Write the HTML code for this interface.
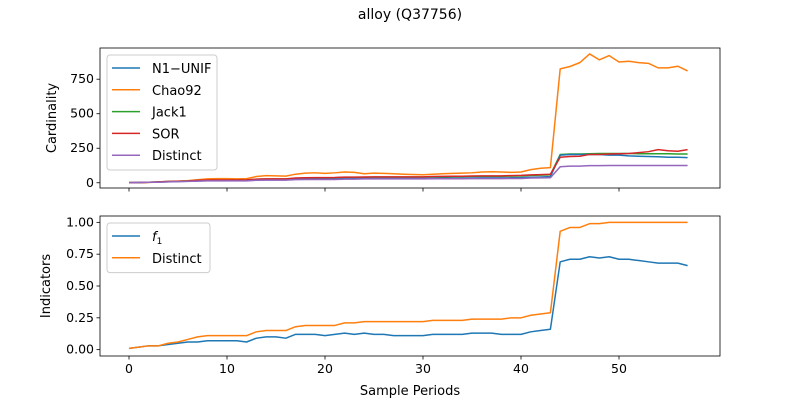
<!DOCTYPE html>
<html><head><meta charset="utf-8"><style>
body{margin:0;background:#fff}
svg text{font-family:"DejaVu Sans","Liberation Sans",sans-serif;fill:#000}
</style></head><body>
<svg id="c" width="800" height="400" xmlns="http://www.w3.org/2000/svg">
<text x="410" y="19" font-size="14" text-anchor="middle">alloy (Q37756)</text>
</svg>
<script>
const periods = Array.from({length:58},(_,i)=>i);
const chao92 = [0,0,2,5,10,12,15,22,28,30,30,28,30,45,52,50,48,62,70,72,68,72,78,75,65,70,68,65,62,60,58,62,65,68,70,72,78,80,78,75,78,95,105,110,825,842,870,933,890,921,875,880,870,865,832,832,844,810];
const distinctInd = [0.01,0.02,0.03,0.03,0.05,0.06,0.08,0.10,0.11,0.11,0.11,0.11,0.11,0.14,0.15,0.15,0.15,0.18,0.19,0.19,0.19,0.19,0.21,0.21,0.22,0.22,0.22,0.22,0.22,0.22,0.22,0.23,0.23,0.23,0.23,0.24,0.24,0.24,0.24,0.25,0.25,0.27,0.28,0.29,0.93,0.96,0.96,0.99,0.99,1.0,1.0,1.0,1.0,1.0,1.0,1.0,1.0,1.0];
const f1Ind = [0.01,0.02,0.03,0.03,0.04,0.05,0.06,0.06,0.07,0.07,0.07,0.07,0.06,0.09,0.10,0.10,0.09,0.12,0.12,0.12,0.11,0.12,0.13,0.12,0.13,0.12,0.12,0.11,0.11,0.11,0.11,0.12,0.12,0.12,0.12,0.13,0.13,0.13,0.12,0.12,0.12,0.14,0.15,0.16,0.69,0.71,0.71,0.73,0.72,0.73,0.71,0.71,0.70,0.69,0.68,0.68,0.68,0.66];
const distinctCard = [1,2,4,4,6,8,10,12,14,14,14,14,14,18,19,19,19,23,24,24,24,24,26,26,28,28,28,28,28,28,28,29,29,29,29,30,30,30,30,31,31,34,35,36,116,120,120,124,124,125,125,125,125,125,125,125,125,125];
const n1unif = [1,2,4,5,7,9,11,13,15,16,16,16,16,20,21,21,21,25,26,27,27,27,30,30,31,31,31,31,31,31,31,32,33,33,33,34,35,35,35,36,37,40,42,44,200,205,205,205,205,200,200,195,192,190,188,185,185,182];
const jack1 = [1,2,4,6,9,11,13,16,18,19,19,19,20,25,27,27,27,32,34,35,35,36,39,39,40,41,41,41,41,41,41,43,43,44,44,46,47,47,47,48,49,53,55,57,205,208,208,210,212,212,212,212,210,210,210,210,208,208];
const sor = [1,2,4,6,9,11,13,17,19,20,20,20,21,26,28,28,28,34,36,37,37,38,41,41,42,43,43,43,43,43,43,45,46,47,47,49,50,50,50,52,53,57,59,62,185,190,192,205,205,208,210,212,218,225,240,232,228,240];
const topTicks = [0,250,500,750];
const botTicks = [0,0.25,0.5,0.75,1.0];
const xTicks = [0,10,20,30,40,50];

const svg=document.getElementById('c');const NS='http://www.w3.org/2000/svg';
function mk(t,a,p){const e=document.createElementNS(NS,t);for(const k in a)e.setAttribute(k,a[k]);(p||svg).appendChild(e);return e;}
const L=100,R=720;
const xs=v=>129+v*9.8;
function axes(top,bot,y0,y1,ticks,fmt,label,nameP){
  const ys=v=>bot-(v-y0)/(y1-y0)*(bot-top);
  const g=mk('g',{});
  ticks.forEach(t=>{const y=ys(t);mk('line',{x1:L-3.5,x2:L,y1:y,y2:y,stroke:'#000','stroke-width':0.8},g);
    const tx=mk('text',{x:L-6,y:y+4,'font-size':12.5,'text-anchor':'end'},g);tx.textContent=fmt(t);
    });
  xTicks.forEach(t=>{const x=xs(t);mk('line',{x1:x,x2:x,y1:bot,y2:bot+3.5,stroke:'#000','stroke-width':0.8},g);
    if(nameP==='bottom'){const tx=mk('text',{x:x,y:bot+17,'font-size':12.5,'text-anchor':'middle'},g);tx.textContent=t;
    }});
  const yl=mk('text',{x:0,y:0,'font-size':13,'text-anchor':'middle',transform:`translate(${nameP==='top'?56:50},${(top+bot)/2}) rotate(-90)`},g);yl.textContent=label;
  
  return ys;
}
function line(vals,ys,col,name){const p=mk('polyline',{points:vals.map((v,i)=>xs(periods[i])+','+ys(v)).join(' '),fill:'none',stroke:col,'stroke-width':1.5,'stroke-linejoin':'round'});
  }
function legend(x,y,w,items,name){const g=mk('g',{});
  mk('rect',{x:x,y:y,width:w,height:items.length*21.8+6,rx:3,fill:'#fff','fill-opacity':0.8,stroke:'#ccc'},g);
  items.forEach((it,i)=>{const yy=y+13+i*21.8;mk('line',{x1:x+5,x2:x+33,y1:yy,y2:yy,stroke:it[1],'stroke-width':1.5},g);
    const t=mk('text',{x:x+45,y:yy+5,'font-size':13},g);t.innerHTML=it[0];
    });}
const ysT=axes(48,188,-38,976,topTicks,v=>v,'Cardinality','top');
line(chao92,ysT,'#ff7f0e','chao92-line');
line(jack1,ysT,'#2ca02c','jack1-line');
line(n1unif,ysT,'#1f77b4','n1-unif-line');
line(sor,ysT,'#d62728','sor-line');
line(distinctCard,ysT,'#9467bd','distinct-line');
mk('rect',{x:L,y:48,width:R-L,height:140,fill:'none',stroke:'#000','stroke-width':0.8});
legend(107,55,110,[['N1\u2212UNIF','#1f77b4'],['Chao92','#ff7f0e'],['Jack1','#2ca02c'],['SOR','#d62728'],['Distinct','#9467bd']],'top-legend');
const ysB=axes(216,356,-0.05,1.05,botTicks,v=>v.toFixed(2),'Indicators','bottom');
line(f1Ind,ysB,'#1f77b4','f1-line');
line(distinctInd,ysB,'#ff7f0e','distinct-indicator-line');
mk('rect',{x:L,y:216,width:R-L,height:140,fill:'none',stroke:'#000','stroke-width':0.8});
legend(107,223,103,[['<tspan font-style="italic">f</tspan><tspan font-size="9" dy="3">1</tspan>','#1f77b4'],['Distinct','#ff7f0e']],'bottom-legend');
const xl=mk('text',{x:410,y:395,'font-size':13,'text-anchor':'middle'});xl.textContent='Sample Periods';


</script>
</body></html>
